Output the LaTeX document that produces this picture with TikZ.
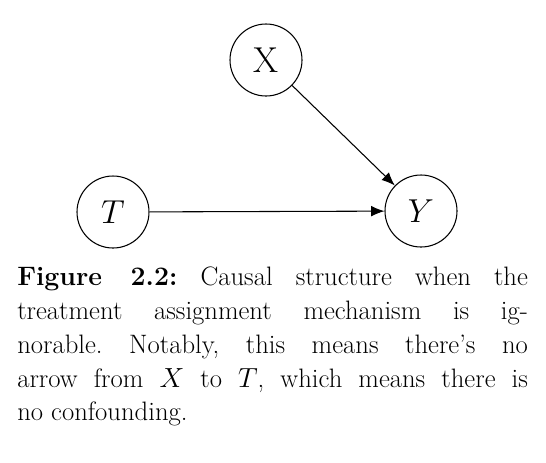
\documentclass[tikz,border=0pt]{standalone}
\usetikzlibrary{arrows.meta}
\tikzset{
  var/.style={circle,draw,line width=0.8pt,minimum size=54pt,inner sep=0pt,
    font=\fontsize{27}{30}\selectfont},
  edge/.style={line width=0.8pt,-{Latex[length=10pt,width=8pt]}}
}
\frenchspacing
\begin{document}
\begin{tikzpicture}[x=0.75pt,y=-0.75pt]
    \useasboundingbox (0,0) rectangle (546,462);
    \node[var] (X) at (266,60) {X};
    \node[var] (T) at (113,212) {$T$};
    \node[var] (Y) at (421,211) {$Y$};
    \draw[edge] (T) -- (Y);
    \draw[edge] (X) -- (Y);
    \node[anchor=north west,inner sep=0pt,text width=383pt,align=justify,
      font=\fontsize{20}{25.3}\selectfont] (caption) at (17,267) {%
      \textbf{Figure 2.2:} Causal structure when the\linebreak
      treatment assignment mechanism is ig-\linebreak
      norable. Notably, this means there's no\linebreak
      arrow from $X$ to $T$, which means there is\linebreak
      no confounding.};
  \end{tikzpicture}
\end{document}
